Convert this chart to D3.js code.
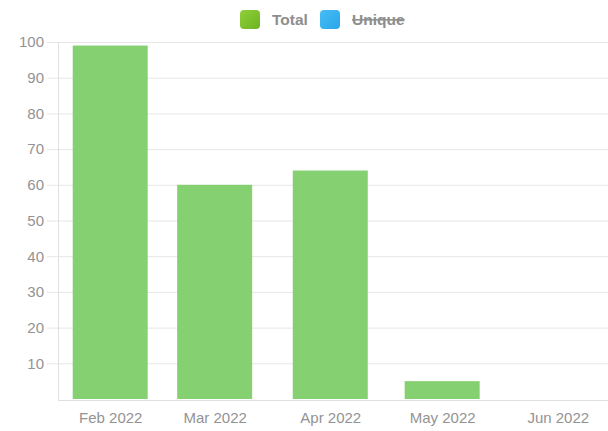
<!DOCTYPE html>
<html>
<head>
<meta charset="utf-8">
<script src="https://cdn.jsdelivr.net/npm/d3@7"></script>
<style>
  html, body { margin: 0; padding: 0; background: #fff; }
  svg { display: block; font-family: "Liberation Sans", Arial, Helvetica, sans-serif; }
</style>
</head>
<body>
<svg id="chart" width="608" height="431"></svg>
<script>
// Monthly totals
const months = ["2022-02-01", "2022-03-01", "2022-04-01", "2022-05-01", "2022-06-01"];
const monthLabels = ["Feb 2022", "Mar 2022", "Apr 2022", "May 2022", "Jun 2022"];
const totals = [99, 60, 64, 5, 0];
const yTicks = [10, 20, 30, 40, 50, 60, 70, 80, 90, 100];
const legendItems = ["Total", "Unique"];

const parse = d3.timeParse("%Y-%m-%d");
const dates = months.map(parse);

const svg = d3.select("#chart");
const plotLeft = 58, plotRight = 608, plotTop = 42, plotBottom = 399;

const x = d3.scaleTime()
  .domain([parse("2022-01-18"), parse("2022-06-15")])
  .range([plotLeft, 610]);
const y = d3.scaleLinear().domain([0, 100]).range([plotBottom, plotTop]);

// horizontal grid + y labels
const yAxis = svg.append("g")
  .attr("transform", `translate(${plotLeft},0)`)
  .call(d3.axisLeft(y).tickValues(yTicks).tickSizeOuter(0).tickPadding(8));
yAxis.select(".domain").remove();
yAxis.selectAll(".tick line")
  .attr("x1", -11).attr("x2", plotRight - plotLeft)
  .attr("stroke", "#e6e6e6");
yAxis.selectAll(".tick text")
  .attr("fill", "#939393")
  .style("font-size", "15px");

// left axis line
svg.append("line").attr("x1", plotLeft + 0.5).attr("x2", plotLeft + 0.5)
  .attr("y1", plotTop).attr("y2", 400)
  .attr("stroke", "#e0e0e0");

// bars
const barW = 75;
svg.append("g").selectAll("rect")
  .data(totals.map((v, i) => ({ d: dates[i], v })))
  .join("rect")
  .attr("x", d => x(d.d) - barW / 2)
  .attr("width", barW)
  .attr("y", d => y(d.v))
  .attr("height", d => y(0) - y(d.v))
  .attr("fill", "#85d171");

// x axis
const xAxis = svg.append("g")
  .attr("transform", `translate(0,400)`)
  .call(d3.axisBottom(x).tickValues(dates).tickSize(0).tickPadding(12)
    .tickFormat((d, i) => monthLabels[i]));
xAxis.select(".domain")
  .attr("d", `M${plotLeft},0.5H${plotRight}`)
  .attr("stroke", "#e0e0e0");
xAxis.selectAll(".tick text")
  .attr("fill", "#939393")
  .style("font-size", "15px");

// legend
const defs = svg.append("defs");
const gGreen = defs.append("linearGradient").attr("id", "lgGreen")
  .attr("x1", 0).attr("y1", 0).attr("x2", 1).attr("y2", 1);
gGreen.append("stop").attr("offset", 0).attr("stop-color", "#8fd03a");
gGreen.append("stop").attr("offset", 1).attr("stop-color", "#6cb322");
const gBlue = defs.append("linearGradient").attr("id", "lgBlue")
  .attr("x1", 0).attr("y1", 0).attr("x2", 1).attr("y2", 1);
gBlue.append("stop").attr("offset", 0).attr("stop-color", "#46bdf5");
gBlue.append("stop").attr("offset", 1).attr("stop-color", "#2aa6e8");

const legendX = [240, 320];
const fills = ["url(#lgGreen)", "url(#lgBlue)"];
const lg = svg.append("g").selectAll("g").data(legendItems).join("g")
  .attr("transform", (d, i) => `translate(${legendX[i]},10)`);
lg.append("rect").attr("width", 20).attr("height", 19).attr("rx", 4)
  .attr("fill", (d, i) => fills[i]);
lg.append("text").attr("x", 32).attr("y", 14.5)
  .attr("fill", "#8e8e8e").style("font-size", "15.5px").style("font-weight", "bold")
  .style("text-decoration", (d, i) => i === 1 ? "line-through" : null)
  .text(d => d);
</script>
</body>
</html>
